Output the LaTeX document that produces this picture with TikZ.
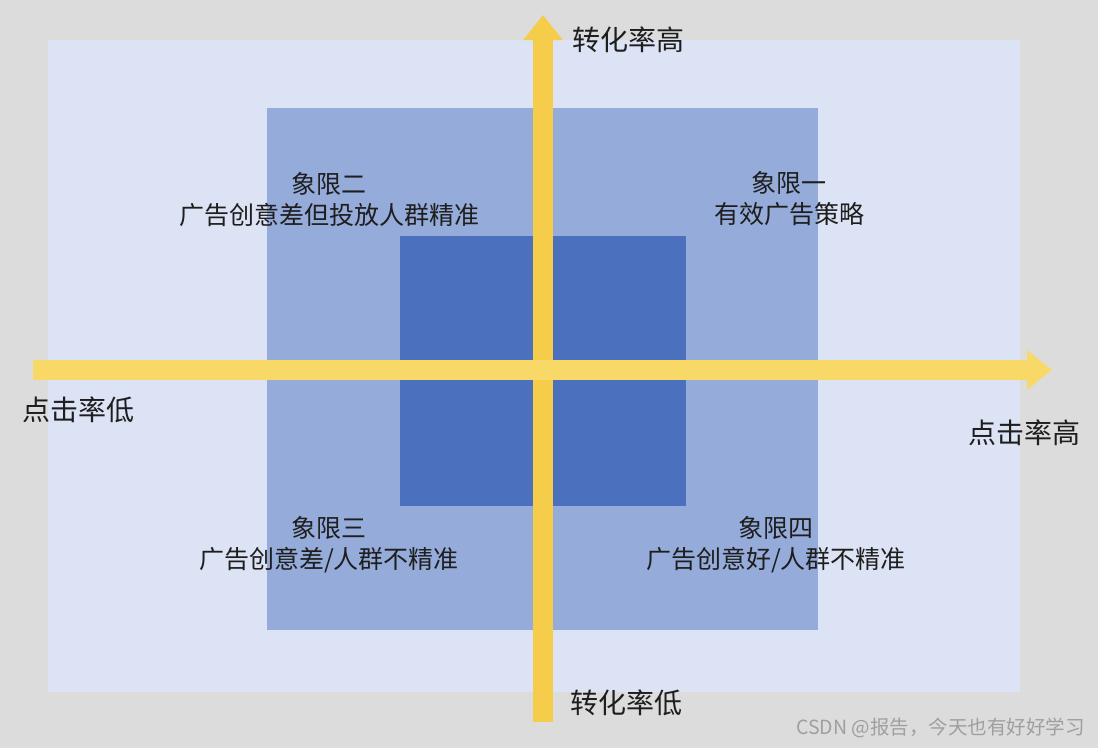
\documentclass[tikz,border=0pt]{standalone}
\usepackage{fontspec}
\newfontfamily\cjk{Noto Sans CJK SC}
\usetikzlibrary{arrows.meta, positioning}
\definecolor{bggray}{RGB}{220,220,220}
\definecolor{outerblue}{RGB}{220,227,244}
\definecolor{midblue}{RGB}{149,171,217}
\definecolor{innerblue}{RGB}{74,112,190}
\definecolor{axisv}{RGB}{245,205,75}
\definecolor{axish}{RGB}{248,216,102}
\definecolor{textdark}{RGB}{30,30,30}
\tikzset{
    matrixplot/.style={x=1pt, y=-1pt},
    region/.style={draw=none},
    axis/.style={line width=20pt, -{Triangle[length=25pt, width=38pt]}},
    axislabel/.style={font=\cjk\fontsize{28}{32}\selectfont, text=textdark, inner sep=0pt},
    quadlabel/.style={font=\cjk\fontsize{25}{31}\selectfont, text=textdark, align=center, inner sep=0pt},
    mark label/.style={font=\cjk\fontsize{19.5}{22}\selectfont, text=gray!75, inner sep=0pt},
}
\begin{document}
\begin{tikzpicture}[matrixplot]
    \useasboundingbox (0,0) rectangle (1098,748);
    \fill[bggray] (0,0) rectangle (1098,748);

    % nested regions
    \fill[region, outerblue] (48,40) rectangle (1020,692);
    \fill[region, midblue]   (267,108) rectangle (818,630);
    \fill[region, innerblue] (400,236) rectangle (686,506);

    % axes
    \coordinate (vbot) at (543,722);
    \coordinate (vtop) at (543,15);
    \coordinate (hleft) at (33,370);
    \coordinate (hright) at (1052,370);
    \draw[axis, axisv] (vbot) -- (vtop);
    \draw[axis, axish] (hleft) -- (hright);

    \node[axislabel, anchor=west] (ytop) at (572,40)  {转化率高};
    \node[axislabel, anchor=west] (ybot) at (570,703) {转化率低};
    \node[axislabel, anchor=west] (xlow) at (22,410)  {点击率低};
    \node[axislabel, anchor=west] (xhigh) at (968,433) {点击率高};

    \node[quadlabel] (q1) at (789,199) {象限一\\有效广告策略};
    \node[quadlabel] (q2) at (329,200) {象限二\\广告创意差但投放人群精准};
    \node[quadlabel] (q3) at (329,545) {象限三\\广告创意差/人群不精准};
    \node[quadlabel] (q4) at (776,545) {象限四\\广告创意好/人群不精准};

    \node[mark label, anchor=east] (wm) at (1085,728) {CSDN @报告，今天也有好好学习};
\end{tikzpicture}
\end{document}
